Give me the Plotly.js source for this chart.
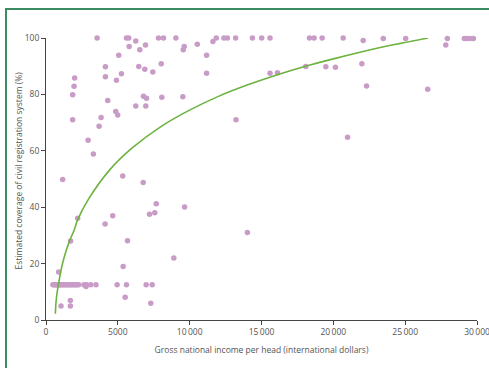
<!DOCTYPE html>
<html>
<head>
<meta charset="utf-8">
<script src="https://cdn.plot.ly/plotly-3.0.1.min.js"></script>
<style>
html,body{margin:0;padding:0;background:#fff;}
#frame{position:absolute;left:5px;top:8px;right:0;bottom:0;border-top:2px solid #3b8c63;border-left:2px solid #3b8c63;}
#chart{position:absolute;left:0;top:0;width:489px;height:368px;}
</style>
</head>
<body>
<div id="frame"></div>
<div id="chart"></div>
<script>
// Countries: gross national income per head (international dollars) and estimated coverage (%)
const incomeX = [
  3557, 5600, 5760, 7831, 8180, 9038, 11855, 12385, 12622, 13201, 14365, 15014, 15592,
  18340, 18661, 19219, 20683, 23473, 25035, 27936, 29121, 29289, 29498, 29749,
  6249, 5788, 6925, 6527, 9623, 9554, 5063, 10530, 11179, 11618, 22078, 27825,
  4135, 6458, 6876, 8020, 7434, 1994, 1953, 1855, 4135, 5251, 4902, 6785, 6995, 8062,
  9526, 4296, 6249, 6946, 1855, 4854, 4993, 3835, 3696, 2929, 3298,
  11179, 13222, 15592, 16109, 18082, 19477, 20146, 21986, 22314, 20990, 26569, 14017,
  5342, 1158, 6764, 7671, 7204, 7573, 9644, 4645, 4114, 2204, 1716, 5670, 8898, 5370, 879,
  480, 560, 640, 720, 790, 860, 930, 1010, 1090, 1170, 1260, 1340, 1430, 1520, 1610,
  1700, 1800, 1890, 1990, 2080, 2180, 2270, 2640, 2790, 2820, 3120, 3480, 4950, 5600,
  6970, 7390,
  1695, 1046, 1695, 5510, 7295
];
const coverageY = [
  100, 100, 100, 100, 100, 100, 100, 100, 100, 100, 100, 100, 100,
  100, 100, 100, 100, 99.8, 99.8, 99.8, 99.8, 99.8, 99.8, 99.8,
  98.9, 97, 97.5, 95.8, 97, 95.8, 93.9, 97.8, 93.9, 98.8, 99.1, 97.5,
  89.8, 89.9, 88.9, 90.9, 87.9, 85.8, 82.9, 79.9, 86.3, 87.3, 85, 79.3, 78.6, 79,
  79.2, 77.8, 75.9, 75.9, 71, 73.9, 72.7, 71.8, 68.7, 63.7, 58.9,
  87.5, 71, 87.5, 87.7, 89.9, 89.8, 89.6, 90.9, 83, 64.8, 81.8, 31,
  51.1, 49.8, 48.8, 41.2, 37.5, 38, 40.1, 37, 34, 36.1, 28, 28.1, 22, 19, 17,
  12.5, 12.5, 12.5, 12.5, 12.5, 12.5, 12.5, 12.5, 12.5, 12.5, 12.5, 12.5, 12.5, 12.5, 12.5,
  12.5, 12.5, 12.5, 12.5, 12.5, 12.5, 12.5, 12.5, 11.9, 12.5, 12.5, 12.5, 12.5, 12.5,
  12.5, 12.5,
  6.9, 5.0, 5.0, 8.1, 5.9
];
// Fitted curve
const fitX = [650, 700, 780, 880, 1050, 1280, 1620, 1970, 2200, 3000, 4480, 6000, 8000, 10060, 12000, 14000, 16000, 18000, 20000, 22000, 24000, 26600];
const fitY = [2.2, 6.5, 10, 13, 17.8, 22.5, 27.8, 32, 35.5, 43.2, 53.5, 61, 68.6, 74.6, 79.3, 83.3, 86.8, 89.9, 92.6, 95.1, 97.4, 100];

const xTickVals = [0, 5000, 10000, 15000, 20000, 25000, 30000];
const xTickText = ['0', '5000', '10\u2009000', '15\u2009000', '20\u2009000', '25\u2009000', '30\u2009000'];
const yTickVals = [0, 20, 40, 60, 80, 100];

const data = [
  {
    x: incomeX, y: coverageY, type: 'scatter', mode: 'markers',
    marker: {color: '#c99bc7', size: 5.5},
    cliponaxis: false, hoverinfo: 'x+y'
  },
  {
    x: fitX, y: fitY, type: 'scatter', mode: 'lines',
    line: {color: '#6db33f', width: 1.6, shape: 'spline', smoothing: 0.8},
    cliponaxis: false
  }
];

const axisFont = {family: 'Open Sans, sans-serif', size: 8.5, color: '#555'};
const layout = {
  width: 489, height: 368,
  margin: {l: 46, r: 12, t: 38, b: 48, pad: 0},
  paper_bgcolor: 'rgba(0,0,0,0)', plot_bgcolor: 'rgba(0,0,0,0)',
  showlegend: false,
  xaxis: {
    range: [0, 30000], showgrid: false, zeroline: false,
    showline: true, linecolor: '#444', linewidth: 1,
    ticks: 'outside', ticklen: 4, tickcolor: '#444', tickwidth: 1,
    tickvals: xTickVals, ticktext: xTickText,
    ticklabeloverflow: 'allow',
    tickfont: axisFont,
    title: {text: 'Gross national income per head (international dollars)', font: axisFont, standoff: 10}
  },
  yaxis: {
    range: [0, 100], showgrid: false, zeroline: false,
    showline: true, linecolor: '#444', linewidth: 1,
    ticks: 'outside', ticklen: 4, tickcolor: '#444', tickwidth: 1,
    tickvals: yTickVals,
    tickfont: axisFont
  },
  annotations: [{
    text: 'Estimated coverage of civil registration system (%)',
    font: axisFont, textangle: -90,
    xref: 'paper', yref: 'paper', x: -0.063, y: 0.53,
    xanchor: 'center', yanchor: 'middle', showarrow: false
  }]
};

Plotly.newPlot('chart', data, layout, {displayModeBar: false, staticPlot: true});
</script>
</body>
</html>
